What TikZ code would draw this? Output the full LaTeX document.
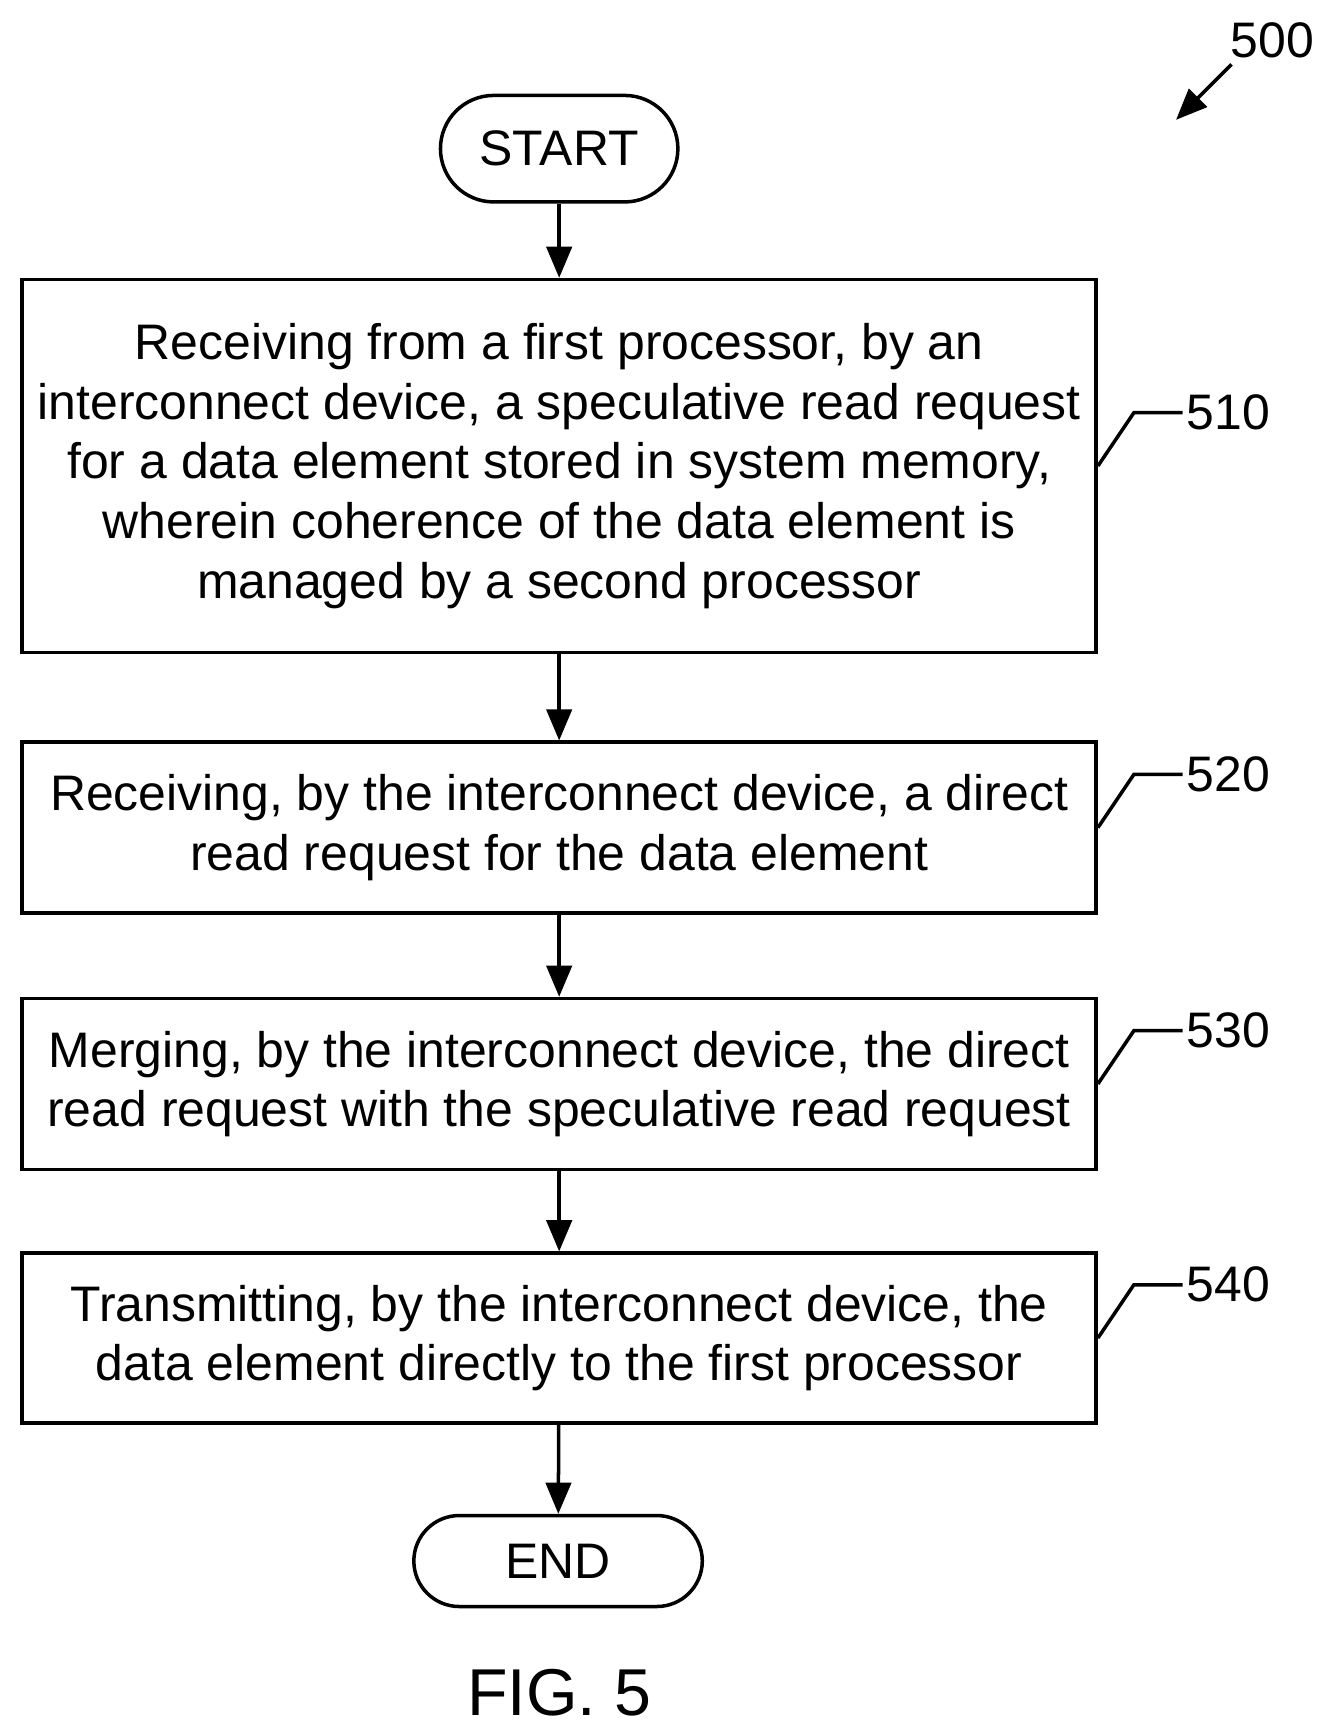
\documentclass[tikz,border=0pt]{standalone}
\usepackage{fontspec}
\setmainfont{Liberation Sans}
\usetikzlibrary{arrows.meta}
\begin{document}
\begin{tikzpicture}[x=0.02cm,y=-0.02cm,
    every node/.style={font=\fontsize{25.6}{30.6}\selectfont},
    stepbox/.style={draw, line width=1.8pt, minimum width=968*0.02cm, align=center, inner sep=0pt},
    term/.style={draw, line width=1.8pt, rounded corners=48*0.02cm, inner sep=0pt},
    flow/.style={-{Triangle[length=16pt,width=13pt]}, line width=1.8pt},
    lead/.style={line width=1.8pt}]
    \useasboundingbox (0,0) rectangle (1190,1553);

    \node (start) [term, minimum width=214*0.02cm, minimum height=96*0.02cm] at (504,134) {START};

    \node (s510) [stepbox, minimum height=336*0.02cm] at (504,420) {Receiving from a first processor, by an\\interconnect device, a speculative read request\\for a data element stored in system memory,\\wherein coherence of the data element is\\managed by a second processor};
    \node (s520) [stepbox, minimum height=154*0.02cm] at (504,746) {Receiving, by the interconnect device, a direct\\read request for the data element};
    \node (s530) [stepbox, minimum height=154*0.02cm] at (504,977) {Merging, by the interconnect device, the direct\\read request with the speculative read request};
    \node (s540) [stepbox, minimum height=153*0.02cm] at (504,1206) {Transmitting, by the interconnect device, the\\data element directly to the first processor};

    \node (end) [term, rounded corners=41*0.02cm, minimum width=260*0.02cm, minimum height=82*0.02cm] at (503,1407) {END};

    \draw[flow] (start) -- (s510);
    \draw[flow] (s510) -- (s520);
    \draw[flow] (s520) -- (s530);
    \draw[flow] (s530) -- (s540);
    \draw[flow] (s540) -- (end);

    % reference numerals
    \foreach \n/\y/\ly in {510/420/372, 520/746/698, 530/977/929, 540/1206/1158} {
        \node (l\n) [right, inner sep=2pt] at (1066,\ly) {\n};
        \draw[lead] (s\n.east |- 0,\y) -- (1022,\ly) -- (l\n.west);
    }

    \node (fig) [inner sep=0pt] at (504,1526) {\fontsize{34}{40}\selectfont FIG. 5};

    \node (n500) [inner sep=0pt] at (1147,36) {500};
    \coordinate (a500) at (1060,108);
    \draw[flow] (1110,58) -- (a500);
\end{tikzpicture}
\end{document}
